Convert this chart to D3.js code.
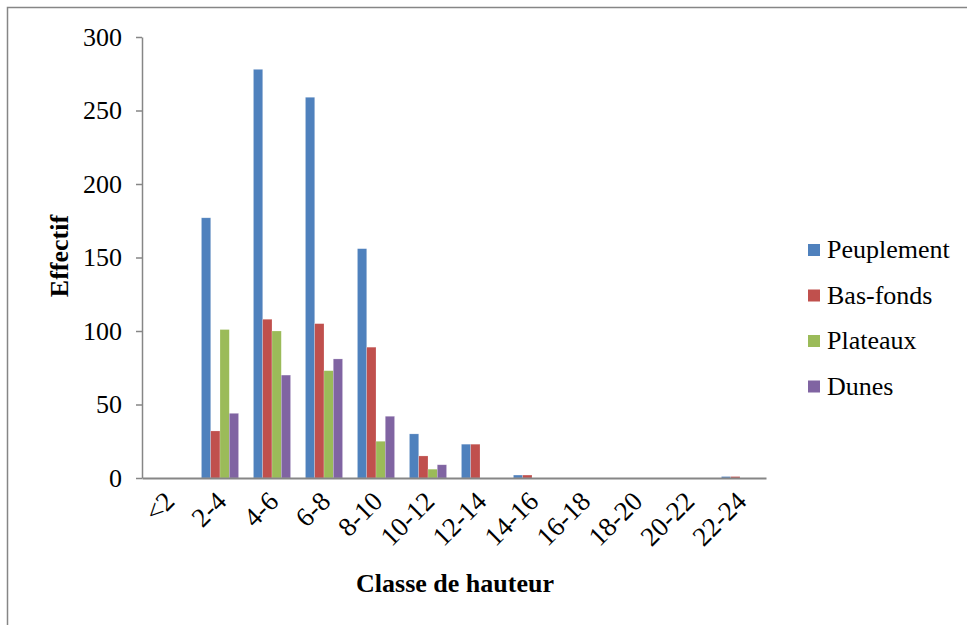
<!DOCTYPE html>
<html>
<head>
<meta charset="utf-8">
<script src="https://cdn.jsdelivr.net/npm/d3@7"></script>
<style>
  body { margin: 0; background: #fff; }
  text { font-family: "Liberation Serif", "Times New Roman", serif; fill: #000; }
</style>
</head>
<body>
<div id="chart"></div>
<script>
// Height classes and counts per site type.
var categories = ["<2", "2-4", "4-6", "6-8", "8-10", "10-12", "12-14", "14-16", "16-18", "18-20", "20-22", "22-24"];
var seriesNames = ["Peuplement", "Bas-fonds", "Plateaux", "Dunes"];
var peuplement = [0, 177, 278, 259, 156, 30, 23, 2, 0, 0, 0, 1];
var basFonds   = [0, 32, 108, 105, 89, 15, 23, 2, 0, 0, 0, 1];
var plateaux   = [0, 101, 100, 73, 25, 6, 0, 0, 0, 0, 0, 0];
var dunes      = [0, 44, 70, 81, 42, 9, 0, 0, 0, 0, 0, 0];
var yTicks = [0, 50, 100, 150, 200, 250, 300];

var colors = ["#4F81BD", "#C0504D", "#9BBB59", "#8064A2"];
var allSeries = [peuplement, basFonds, plateaux, dunes];

var width = 967, height = 625;
var plot = { left: 142, right: 766, top: 37, bottom: 478 };

var svg = d3.select("#chart").append("svg")
  .attr("width", width)
  .attr("height", height);

// Outer frame (only top and left visible in the picture)
svg.append("rect")
  .attr("x", 7.5).attr("y", 7.5)
  .attr("width", width + 20).attr("height", height + 20)
  .attr("fill", "none")
  .attr("stroke", "#868686")
  .attr("stroke-width", 1.5);

var x = d3.scaleBand()
  .domain(categories)
  .range([plot.left, plot.right])
  .paddingInner(0)
  .paddingOuter(0);

// Excel style gap: 160% of a bar width between groups
var barW = x.bandwidth() / (seriesNames.length + 1.6);
var xInner = d3.scaleBand()
  .domain(seriesNames)
  .range([0, barW * seriesNames.length]);
var groupOffset = (x.bandwidth() - barW * seriesNames.length) / 2;

var y = d3.scaleLinear()
  .domain([0, 300])
  .range([plot.bottom, plot.top]);

// Bars
seriesNames.forEach(function (name, si) {
  svg.append("g")
    .selectAll("rect")
    .data(allSeries[si])
    .enter()
    .append("rect")
    .attr("x", function (d, i) { return x(categories[i]) + groupOffset + xInner(name); })
    .attr("y", function (d) { return y(d); })
    .attr("width", xInner.bandwidth())
    .attr("height", function (d) { return y(0) - y(d); })
    .attr("fill", colors[si])
    .attr("stroke", "#fff")
    .attr("stroke-opacity", 0.35)
    .attr("stroke-width", 0.6);
});

// Y axis
var yAxis = svg.append("g")
  .attr("transform", "translate(" + plot.left + ",0)")
  .call(d3.axisLeft(y).tickValues(yTicks).tickSize(6).tickPadding(14).tickSizeOuter(0));
yAxis.select(".domain").attr("stroke", "#868686").attr("stroke-width", 1.5);
yAxis.selectAll(".tick line").attr("stroke", "#868686").attr("stroke-width", 1.5);
yAxis.selectAll(".tick text")
  .attr("font-size", 26)
  .attr("font-family", "Liberation Serif")
  .attr("fill", "#000");

// X axis
var xAxis = svg.append("g")
  .attr("transform", "translate(0," + plot.bottom + ")")
  .call(d3.axisBottom(x).tickSize(0).tickSizeOuter(0).tickFormat(""));
xAxis.select(".domain").attr("stroke", "#868686").attr("stroke-width", 2);

svg.append("g")
  .selectAll("text")
  .data(categories)
  .enter()
  .append("text")
  .attr("transform", function (d) {
    return "translate(" + (x(d) + x.bandwidth() / 2 + 8) + "," + (plot.bottom + 25) + ") rotate(-45)";
  })
  .attr("text-anchor", "end")
  .attr("font-size", 27)
  .text(function (d) { return d; });

// Axis titles
svg.append("text")
  .attr("transform", "translate(68,256) rotate(-90)")
  .attr("text-anchor", "middle")
  .attr("font-size", 26)
  .attr("font-weight", "bold")
  .text("Effectif");

svg.append("text")
  .attr("x", 455)
  .attr("y", 592)
  .attr("text-anchor", "middle")
  .attr("font-size", 26)
  .attr("font-weight", "bold")
  .text("Classe de hauteur");

// Legend
var legend = svg.append("g").attr("transform", "translate(808,244)");
seriesNames.forEach(function (name, i) {
  var row = legend.append("g").attr("transform", "translate(0," + (i * 45.5) + ")");
  row.append("rect")
    .attr("width", 12).attr("height", 12)
    .attr("fill", colors[i]);
  row.append("text")
    .attr("x", 19).attr("y", 14)
    .attr("font-size", 26)
    .text(name);
});
</script>
</body>
</html>
